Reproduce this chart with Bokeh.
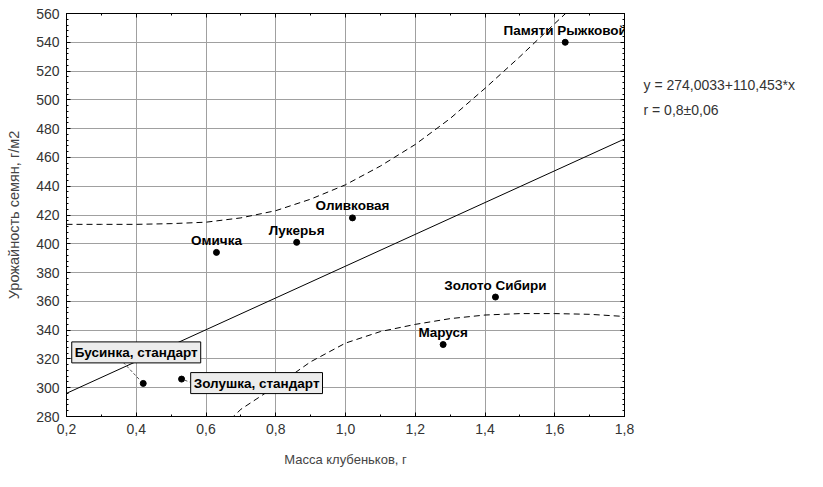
import numpy as np
from bokeh.plotting import figure
from bokeh.models import Range1d, LinearAxis, FixedTicker, Label, ColumnDataSource
from bokeh.core.properties import value
from bokeh.embed import file_html
from bokeh.resources import INLINE

# ---- data ----
varieties = ["Бусинка, стандарт", "Золушка, стандарт", "Омичка", "Лукерья",
             "Оливковая", "Маруся", "Золото Сибири", "Памяти Рыжковой"]
nodule_mass = [0.42, 0.53, 0.63, 0.86, 1.02, 1.28, 1.43, 1.63]
seed_yield = [303, 306, 394, 401, 418, 330, 363, 540]

intercept = 274.0033
slope = 110.453
equation_text = "y = 274,0033+110,453*x"
r_text = "r = 0,8±0,06"

upper_x = [0.2, 0.3, 0.4, 0.5, 0.6, 0.7, 0.8, 0.9, 1.0, 1.1, 1.2, 1.3, 1.4, 1.5, 1.6, 1.64]
upper_y = [413.5, 413.5, 413.5, 414, 415, 418, 423, 431, 441, 454, 469, 487, 508, 530, 553, 562]
lower_x = [0.67, 0.7, 0.8, 0.9, 1.0, 1.1, 1.2, 1.3, 1.4, 1.5, 1.6, 1.7, 1.8]
lower_y = [278, 285, 301, 318, 331, 339, 344, 348, 350.5, 351.5, 351.5, 351, 349.5]

x_ticks = [0.2, 0.4, 0.6, 0.8, 1.0, 1.2, 1.4, 1.6, 1.8]
x_tick_labels = ["0,2", "0,4", "0,6", "0,8", "1,0", "1,2", "1,4", "1,6", "1,8"]
y_ticks = [280, 300, 320, 340, 360, 380, 400, 420, 440, 460, 480, 500, 520, 540, 560]
y_tick_labels = [str(v) for v in y_ticks]

x_title = "Масса клубеньков, г"
y_title = "Урожайность семян, г/м2"

# ---- styling ----
FONT = "Liberation Sans"
W, H = 807, 471
BL, BR, BT, BB = 66, 183, 13, 55
LABEL_SIZE = "13.5px"

p = figure(width=W, height=H, x_range=Range1d(0.2, 1.8), y_range=Range1d(280, 560),
           output_backend="svg", toolbar_location=None,
           min_border_left=BL, min_border_right=BR, min_border_top=BT, min_border_bottom=BB,
           background_fill_color="white", border_fill_color="white")
p.outline_line_color = "black"
p.outline_line_width = 1

x_minor = list(np.round(np.arange(0.2, 1.8001, 0.1), 3))
y_minor = list(np.round(np.arange(280, 560.01, 4), 3))
xt = FixedTicker(ticks=x_ticks, minor_ticks=x_minor)
yt = FixedTicker(ticks=y_ticks, minor_ticks=y_minor)

top = LinearAxis(ticker=xt)
right = LinearAxis(ticker=yt)
p.add_layout(top, "above")
p.add_layout(right, "right")

for ax in p.axis:
    ax.axis_line_color = "black"
    ax.major_tick_in = 4
    ax.major_tick_out = 0
    ax.minor_tick_in = 2
    ax.minor_tick_out = 0
    ax.major_tick_line_color = "black"
    ax.minor_tick_line_color = "black"
    ax.major_label_text_font = FONT
    ax.major_label_text_font_size = "14px"
    ax.major_label_text_color = "#333333"
    ax.axis_label_text_font = FONT
    ax.axis_label_text_font_style = "normal"
    ax.axis_label_text_color = "#444444"

for ax in (top, right):
    ax.major_label_text_font_size = "0px"
    ax.major_label_standoff = 0
    ax.major_label_text_alpha = 0

bottom_ax = p.below[0]
bottom_ax.ticker = xt
bottom_ax.major_label_overrides = dict(zip(x_ticks, x_tick_labels))
bottom_ax.axis_label = x_title
bottom_ax.axis_label_text_font_size = "13px"
bottom_ax.axis_label_standoff = 15
bottom_ax.major_label_standoff = 7

left_ax = p.left[0]
left_ax.ticker = yt
left_ax.major_label_overrides = dict(zip(y_ticks, y_tick_labels))
left_ax.axis_label = y_title
left_ax.axis_label_text_font_size = "14.5px"
left_ax.axis_label_standoff = 11
left_ax.major_label_standoff = 7

p.grid.grid_line_color = "#a0a0a0"
p.grid.grid_line_width = 1

# regression line
reg_x = [x_ticks[0], x_ticks[-1]]
reg_y = [intercept + slope * v for v in reg_x]
p.line(reg_x, reg_y, line_color="black", line_width=1)

# confidence bands
p.line(upper_x, upper_y, line_color="black", line_width=1, line_dash="6 4")
p.line(lower_x, lower_y, line_color="black", line_width=1, line_dash="6 4")

# points
p.scatter(nodule_mass, seed_yield, size=6, color="black")

# plain labels (centered above point)
boxed = [True, True, False, False, False, False, False, False]
plain = ColumnDataSource(dict(
    x=[x for x, b in zip(nodule_mass, boxed) if not b],
    y=[y for y, b in zip(seed_yield, boxed) if not b],
    t=[t for t, b in zip(varieties, boxed) if not b]))
p.text(x="x", y="y", text="t", source=plain, text_align="center",
       text_baseline="alphabetic", y_offset=-12, text_font=value(FONT),
       text_font_style="bold", text_font_size=LABEL_SIZE, text_color="black")

# boxed labels with leader lines
px_x = (1.8 - 0.2) / (W - BL - BR)
px_y = (560 - 280) / (H - BT - BB)
box_offsets = {0: (-7, 31), 1: (75, -4)}
leader_px = {0: ((-20, 21), (-3, 3)), 1: ((3, -1), (8, -3))}
for i, (dx, dy) in box_offsets.items():
    (sx0, sy0), (sx1, sy1) = leader_px[i]
    p.line([nodule_mass[i] + sx0 * px_x, nodule_mass[i] + sx1 * px_x],
           [seed_yield[i] + sy0 * px_y, seed_yield[i] + sy1 * px_y],
           line_color="#555555", line_width=1, line_dash="3 2")
    p.add_layout(Label(x=nodule_mass[i], y=seed_yield[i], x_offset=dx, y_offset=dy,
                       text=varieties[i], text_align="center", text_baseline="middle",
                       text_font=FONT, text_font_style="bold", text_font_size=LABEL_SIZE,
                       text_color="black", background_fill_color="#ececec",
                       border_line_color="black", border_line_width=1, padding=3))

# equation text on the right, placed in the right-hand side panel (not clipped)
eq = Label(x=19, y=H - BT - BB - 63, x_units="screen", y_units="screen",
           text=equation_text + "\n" + r_text,
           text_font=FONT, text_font_size="14px", text_color="#333333",
           text_baseline="top", text_line_height=1.6)
p.add_layout(eq, "right")

open("out.html", "w").write(file_html(p, INLINE))
